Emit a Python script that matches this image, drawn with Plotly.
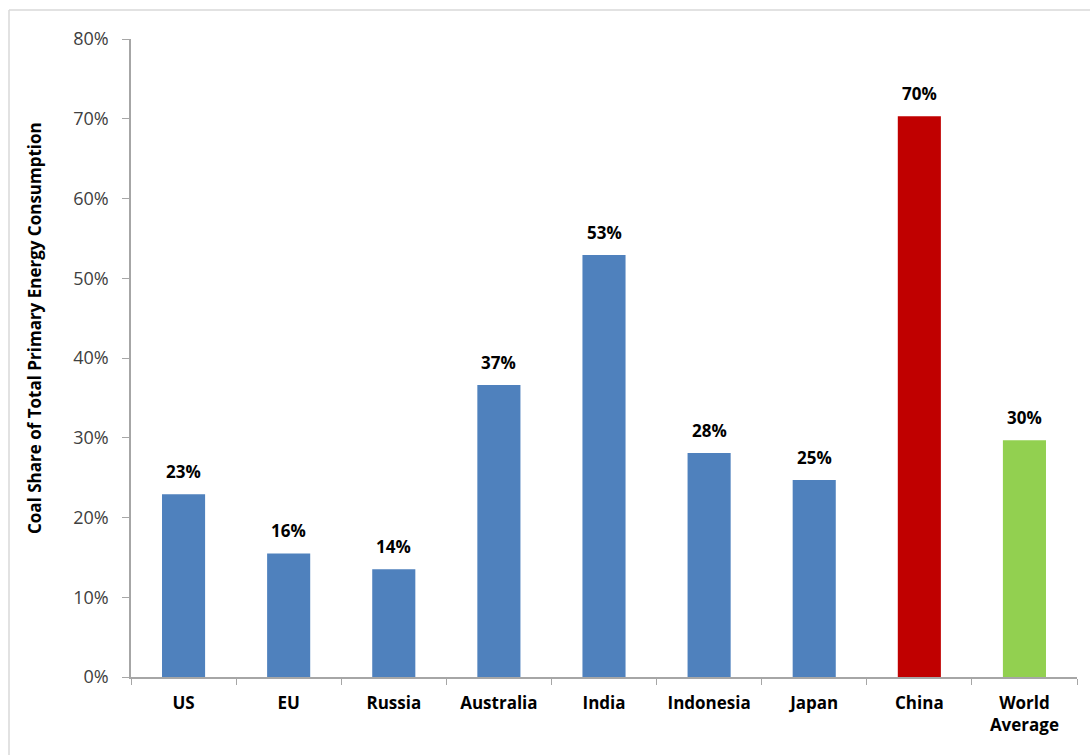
import plotly.graph_objects as go

categories = ["US", "EU", "Russia", "Australia", "India", "Indonesia", "Japan", "China", "World<br>Average"]
values = [22.9, 15.5, 13.5, 36.6, 52.9, 28.1, 24.7, 70.3, 29.7]
labels = ["23%", "16%", "14%", "37%", "53%", "28%", "25%", "70%", "30%"]
colors = ["#4F81BD"] * 7 + ["#C00000", "#92D050"]
tick_vals = [0, 10, 20, 30, 40, 50, 60, 70, 80]
tick_text = ["0%", "10%", "20%", "30%", "40%", "50%", "60%", "70%", "80%"]
y_title = "Coal Share of Total Primary Energy Consumption"

W, H = 1090, 755
L, R, T, B = 131, 13, 39, 78
pw, ph = W - L - R, H - T - B
FONT = "Open Sans, sans-serif"

fig = go.Figure(go.Bar(
    x=categories, y=values, marker=dict(color=colors, line=dict(width=0)),
    width=0.41, hoverinfo="x+y",
))

for c, v, t in zip(categories, values, labels):
    fig.add_annotation(x=c, y=v, text=t, showarrow=False, yanchor="bottom", yshift=9,
                       font=dict(family=FONT, size=17, color="black", weight="bold"))

# y-axis title placed relative to the whole chart area
fig.add_annotation(xref="paper", yref="paper", x=(34 - L) / pw, y=(H - B - 328) / ph,
                   text=y_title, textangle=-90, showarrow=False,
                   xanchor="center", yanchor="middle",
                   font=dict(family=FONT, size=17, color="black", weight="bold"))

fig.update_layout(
    width=W, height=H, margin=dict(l=L, r=R, t=T, b=B),
    paper_bgcolor="white", plot_bgcolor="white", showlegend=False,
    font=dict(family=FONT),
    yaxis=dict(range=[0, 80], tickvals=tick_vals, ticktext=tick_text, showgrid=False,
               showline=True, linecolor="#A6A6A6", linewidth=1.5, ticks="outside",
               ticklen=7, tickcolor="#A6A6A6", ticklabelstandoff=10,
               tickfont=dict(family=FONT, size=18, color="#404040"),
               zeroline=False),
    xaxis=dict(showline=True, linecolor="#A6A6A6", linewidth=1.5, ticks="outside",
               tickson="boundaries", ticklen=6, tickcolor="#A6A6A6", ticklabelstandoff=10,
               tickfont=dict(family=FONT, size=17, color="black", weight="bold"), tickangle=0),
    bargap=0.59,
)

fig.add_shape(type="line", xref="paper", yref="paper",
              x0=(9 - L) / pw, x1=(W + 5 - L) / pw, y0=(H - B - 10) / ph, y1=(H - B - 10) / ph,
              line=dict(color="#D9D9D9", width=1.5))
fig.add_shape(type="line", xref="paper", yref="paper",
              x0=(9 - L) / pw, x1=(9 - L) / pw, y0=(H - B - 10) / ph, y1=-(B + 10) / ph,
              line=dict(color="#D9D9D9", width=1.5))

fig.write_html("out.html")
